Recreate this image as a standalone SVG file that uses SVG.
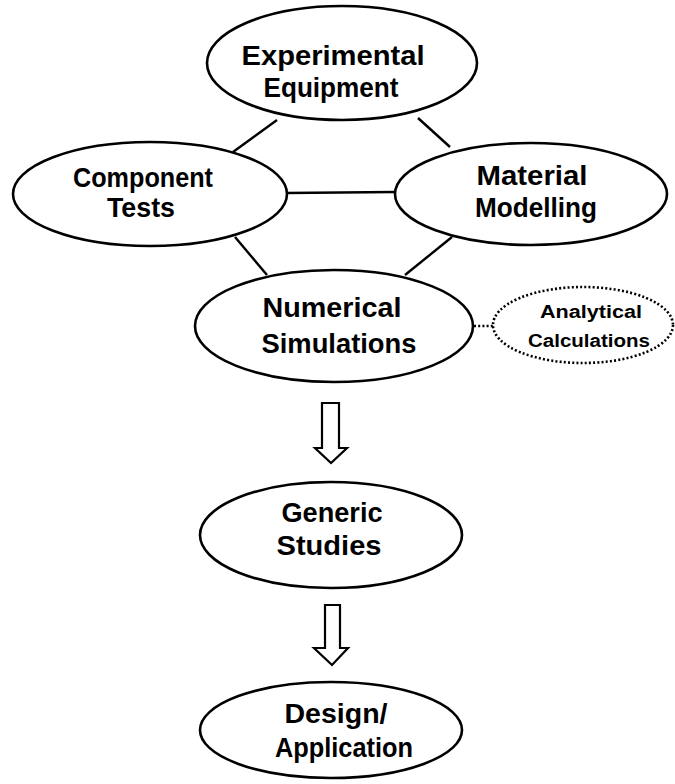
<svg xmlns="http://www.w3.org/2000/svg" width="675" height="784" viewBox="0 0 675 784">
<style>
.node{fill:#fff;stroke:#000;stroke-width:2.6}
.dot{fill:#fff;stroke:#000;stroke-width:2.6;stroke-dasharray:2 2.2}
.lbl{font-family:"Liberation Sans",Arial,sans-serif;font-weight:bold;font-size:28px;fill:#000;text-anchor:middle}
.sm{font-size:18px}
.conn{stroke:#000;stroke-width:2.4;fill:none}
.dconn{stroke:#000;stroke-width:2.6;stroke-dasharray:2 2.2;fill:none}
.arrow{fill:#fff;stroke:#000;stroke-width:2.2;stroke-linejoin:miter}
</style>
<rect width="675" height="784" fill="#fff"/>
<g id="connectors">
<line class="conn" x1="277" y1="120" x2="233" y2="152"/>
<line class="conn" x1="418" y1="118" x2="450" y2="147"/>
<line class="conn" x1="286" y1="193" x2="395" y2="192"/>
<line class="conn" x1="235" y1="237" x2="267" y2="275"/>
<line class="conn" x1="452" y1="237" x2="405" y2="275"/>
<line class="dconn" x1="474" y1="326" x2="494" y2="326"/>
<path class="arrow" d="M322,403 H339 V448 H347 L331,463 L315,448 H322 Z"/>
<path class="arrow" d="M325,605 H340 V648 H348 L332,665 L314,648 H325 Z"/>
</g>
<g id="experimental">
<ellipse class="node" cx="342" cy="63" rx="135" ry="57"/>
<text class="lbl" x="333" y="65" textLength="183" lengthAdjust="spacingAndGlyphs">Experimental</text>
<text class="lbl" x="331" y="97" textLength="135" lengthAdjust="spacingAndGlyphs">Equipment</text>
</g>
<g id="component">
<ellipse class="node" cx="150" cy="194" rx="137" ry="52"/>
<text class="lbl" x="143" y="187" textLength="140" lengthAdjust="spacingAndGlyphs">Component</text>
<text class="lbl" x="141" y="217" textLength="68" lengthAdjust="spacingAndGlyphs">Tests</text>
</g>
<g id="material">
<ellipse class="node" cx="531" cy="194" rx="136" ry="51"/>
<text class="lbl" x="532" y="185" textLength="111" lengthAdjust="spacingAndGlyphs">Material</text>
<text class="lbl" x="536" y="217" textLength="122" lengthAdjust="spacingAndGlyphs">Modelling</text>
</g>
<g id="numerical">
<ellipse class="node" cx="334" cy="326" rx="139" ry="56"/>
<text class="lbl" x="332" y="317" textLength="139" lengthAdjust="spacingAndGlyphs">Numerical</text>
<text class="lbl" x="339" y="353" textLength="155" lengthAdjust="spacingAndGlyphs">Simulations</text>
</g>
<g id="analytical">
<ellipse class="dot" cx="583" cy="325" rx="90" ry="38"/>
<text class="lbl sm" x="591" y="318" textLength="102" lengthAdjust="spacingAndGlyphs">Analytical</text>
<text class="lbl sm" x="589" y="347" textLength="122" lengthAdjust="spacingAndGlyphs">Calculations</text>
</g>
<g id="generic">
<ellipse class="node" cx="331" cy="535" rx="131" ry="53"/>
<text class="lbl" x="332" y="522" textLength="101" lengthAdjust="spacingAndGlyphs">Generic</text>
<text class="lbl" x="329" y="555" textLength="105" lengthAdjust="spacingAndGlyphs">Studies</text>
</g>
<g id="design">
<ellipse class="node" cx="331" cy="730" rx="131" ry="48"/>
<text class="lbl" x="336" y="723" textLength="103" lengthAdjust="spacingAndGlyphs">Design/</text>
<text class="lbl" x="344" y="757" textLength="138" lengthAdjust="spacingAndGlyphs">Application</text>
</g>
</svg>
